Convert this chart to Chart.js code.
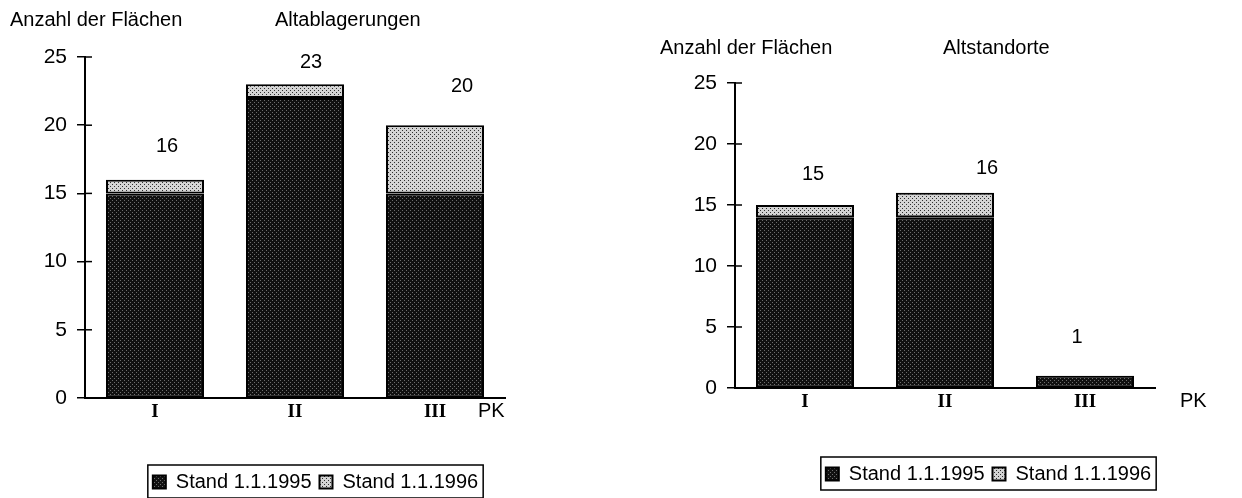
<!DOCTYPE html>
<html>
<head>
<meta charset="utf-8">
<script src="https://cdn.jsdelivr.net/npm/chart.js@4.4.1/dist/chart.umd.min.js"></script>
<style>
  html, body { margin: 0; padding: 0; background: #fff; width: 1242px; height: 498px; overflow: hidden; }
  canvas { position: absolute; top: 0; }
  #chartAblag { left: 0; }
  #chartStand { left: 630px; }
</style>
</head>
<body>
<canvas id="chartAblag" width="630" height="498"></canvas>
<canvas id="chartStand" width="612" height="498"></canvas>
<script>
// categories (Prioritaetenklassen) and y ticks
const categories = ['I', 'II', 'III'];
const tickValues = [0, 5, 10, 15, 20, 25];
const legendLabels = ['Stand 1.1.1995', 'Stand 1.1.1996'];

// Altablagerungen
const ablag1995 = [15, 22, 15];
const ablag1996 = [1, 1, 5];
const ablagTotals = [16, 23, 20];

// Altstandorte
const stand1995 = [14, 14, 1];
const stand1996 = [1, 2, 0];
const standTotals = [15, 16, 1];

const SANS = '"Liberation Sans", Arial, Helvetica, sans-serif';
const SERIF = '"Liberation Serif", "Times New Roman", serif';

function makePattern(base, dot, size){
  const c = document.createElement('canvas');
  c.width = c.height = size;
  const g = c.getContext('2d');
  g.fillStyle = base; g.fillRect(0, 0, size, size);
  g.fillStyle = dot;
  g.fillRect(0, 0, 1, 1);
  g.fillRect(size/2, size/2, 1, 1);
  return g.createPattern(c, 'repeat');
}
const darkFill = makePattern('#111111', '#6e6e6e', 4);
const lightFill = makePattern('#d4d4d4', '#2e2e2e', 4);

// headers, value labels, PK, inner ticks, legend frame
const extras = {
  id: 'extras',
  afterLayout(chart, args, o){
    // move the legend under the plot like in the print
    const lg = chart.legend;
    lg.left += o.legendDx;
    lg.right += o.legendDx;
  },
  afterDraw(chart, args, o){
    const ctx = chart.ctx;
    const x = chart.scales.x, y = chart.scales.y;
    ctx.save();
    ctx.fillStyle = '#000';
    ctx.textBaseline = 'middle';
    ctx.font = '20px ' + SANS;
    ctx.textAlign = 'left';
    ctx.fillText('Anzahl der Flächen', o.yTitleX, o.headY);
    ctx.fillText(o.title, o.titleX, o.headY);

    // totals above the bars
    ctx.textAlign = 'center';
    o.totals.forEach((t, i) => {
      const px = x.getPixelForValue(i) + o.labelDx[i];
      const py = y.getPixelForValue(t) - o.labelDy[i];
      ctx.fillText(String(t), px, py);
    });

    // PK at end of x axis
    ctx.textAlign = 'left';
    ctx.fillText('PK', chart.chartArea.right + o.pkDx, y.bottom + 13);

    // tick marks crossing into the plot
    ctx.strokeStyle = '#000';
    ctx.lineWidth = 1.5;
    tickValues.forEach(v => {
      const py = y.getPixelForValue(v);
      ctx.beginPath();
      ctx.moveTo(y.right, py);
      ctx.lineTo(y.right + 7, py);
      ctx.stroke();
    });

    // frame round the legend
    const boxes = chart.legend.legendHitBoxes;
    if (boxes && boxes.length){
      const l = Math.min(...boxes.map(b => b.left)) - 5;
      const r = Math.max(...boxes.map(b => b.left + b.width)) + 5;
      const cy = boxes[0].top + boxes[0].height / 2;
      ctx.lineWidth = 1.5;
      ctx.strokeRect(l, cy - 17, r - l, 33);
    }
    ctx.restore();
  }
};

function makeChart(id, d1, d2, c){
  new Chart(document.getElementById(id).getContext('2d'), {
    type: 'bar',
    data: {
      labels: categories,
      datasets: [
        { label: legendLabels[0], data: d1, backgroundColor: darkFill, borderColor: '#000', borderWidth: 2, borderSkipped: false, barPercentage: 0.7, categoryPercentage: 1 },
        { label: legendLabels[1], data: d2, backgroundColor: lightFill, borderColor: '#000', borderWidth: 2, borderSkipped: false, barPercentage: 0.7, categoryPercentage: 1 }
      ]
    },
    options: {
      responsive: false,
      animation: false,
      layout: { padding: { left: 0, top: c.top, right: c.right, bottom: c.bottom } },
      plugins: {
        legend: {
          position: 'bottom',
          labels: { color: '#000', font: { family: SANS, size: 20 }, boxWidth: 13, boxHeight: 13, padding: 8 }
        },
        tooltip: { enabled: false },
        extras: c.extras
      },
      scales: {
        x: {
          stacked: true,
          grid: { display: false, drawTicks: false },
          border: { display: true, color: '#000', width: 2 },
          ticks: { color: '#000', font: { family: SERIF, size: 19, weight: 'bold' }, padding: 3 },
          afterFit: s => { s.height = c.xHeight; }
        },
        y: {
          stacked: true,
          min: 0, max: 25,
          afterBuildTicks: s => { s.ticks = tickValues.map(v => ({ value: v })); },
          grid: { drawOnChartArea: false, tickLength: 8, color: '#000', lineWidth: 1.5 },
          border: { color: '#000', width: 2 },
          ticks: { color: '#000', font: { family: SANS, size: 21 }, padding: 10 },
          afterFit: s => { s.width = c.yWidth; }
        }
      }
    },
    plugins: [extras]
  });
}

makeChart('chartAblag', ablag1995, ablag1996, {
  top: 57, right: 125, bottom: -4, xHeight: 66, yWidth: 85,
  extras: { title: 'Altablagerungen', yTitleX: 10, titleX: 275, headY: 20, totals: ablagTotals,
            labelDx: [12, 16, 27], labelDy: [33, 22, 39], pkDx: -27, legendDx: 63 }
});
makeChart('chartStand', stand1995, stand1996, {
  top: 83, right: 87, bottom: 4, xHeight: 68, yWidth: 105,
  extras: { title: 'Altstandorte', yTitleX: 30, titleX: 313, headY: 48, totals: standTotals,
            labelDx: [8, 42, -8], labelDy: [31, 24, 38], pkDx: 25, legendDx: 96 }
});
</script>
</body>
</html>
